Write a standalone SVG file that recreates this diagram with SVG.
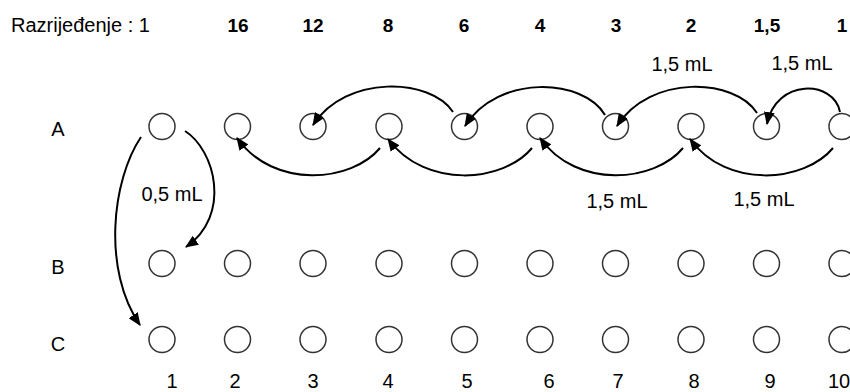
<svg xmlns="http://www.w3.org/2000/svg" width="850" height="392" viewBox="0 0 850 392">
<style>
  .t { font-family: "Liberation Sans", Arial, sans-serif; font-size: 20px; fill: #000; }
  .b { font-family: "Liberation Sans", Arial, sans-serif; font-size: 19px; font-weight: bold; fill: #000; text-anchor: middle; }
  .m { text-anchor: middle; }
  .well { fill: #fff; stroke: #333; stroke-width: 1.5; }
  .arc { fill: none; stroke: #000; stroke-width: 2; marker-end: url(#ah); }
</style>
<defs>
  <marker id="ah" viewBox="0 0 12 10" markerUnits="userSpaceOnUse" markerWidth="13" markerHeight="11" refX="11" refY="5" orient="auto">
    <path d="M0,0 L12,5 L0,10 z" fill="#000"/>
  </marker>
  <circle id="w" r="13" class="well"/>
</defs>
<rect width="850" height="392" fill="#fff"/>

<g id="header">
  <text class="t" x="11" y="32">Razrijeđenje : 1</text>
  <text class="b" x="238" y="32">16</text>
  <text class="b" x="313" y="32">12</text>
  <text class="b" x="388" y="32">8</text>
  <text class="b" x="464" y="32">6</text>
  <text class="b" x="540" y="32">4</text>
  <text class="b" x="616" y="32">3</text>
  <text class="b" x="691" y="32">2</text>
  <text class="b" x="767" y="32">1,5</text>
  <text class="b" x="842" y="32">1</text>
</g>

<g id="row-labels">
  <text class="t m" x="58" y="136">A</text>
  <text class="t m" x="58" y="274">B</text>
  <text class="t m" x="58" y="351">C</text>
</g>

<g id="col-labels">
  <text class="t m" x="172" y="388">1</text>
  <text class="t m" x="235" y="388">2</text>
  <text class="t m" x="313" y="388">3</text>
  <text class="t m" x="388" y="388">4</text>
  <text class="t m" x="467" y="388">5</text>
  <text class="t m" x="549" y="388">6</text>
  <text class="t m" x="618" y="388">7</text>
  <text class="t m" x="694" y="388">8</text>
  <text class="t m" x="770" y="388">9</text>
  <text class="t m" x="839" y="388">10</text>
</g>

<g id="row-A">
  <use href="#w" x="162" y="126.5"/><use href="#w" x="237.5" y="126.5"/><use href="#w" x="313" y="126.5"/><use href="#w" x="389" y="126.5"/><use href="#w" x="464.5" y="126.5"/>
  <use href="#w" x="540" y="126.5"/><use href="#w" x="615.5" y="126.5"/><use href="#w" x="691" y="126.5"/><use href="#w" x="766.5" y="126.5"/><use href="#w" x="842" y="126.5"/>
</g>
<g id="row-B">
  <use href="#w" x="162" y="263.5"/><use href="#w" x="237.5" y="263.5"/><use href="#w" x="313" y="263.5"/><use href="#w" x="389" y="263.5"/><use href="#w" x="464.5" y="263.5"/>
  <use href="#w" x="540" y="263.5"/><use href="#w" x="615.5" y="263.5"/><use href="#w" x="691" y="263.5"/><use href="#w" x="766.5" y="263.5"/><use href="#w" x="842" y="263.5"/>
</g>
<g id="row-C">
  <use href="#w" x="162" y="339.5"/><use href="#w" x="237.5" y="339.5"/><use href="#w" x="313" y="339.5"/><use href="#w" x="389" y="339.5"/><use href="#w" x="464.5" y="339.5"/>
  <use href="#w" x="540" y="339.5"/><use href="#w" x="615.5" y="339.5"/><use href="#w" x="691" y="339.5"/><use href="#w" x="766.5" y="339.5"/><use href="#w" x="842" y="339.5"/>
</g>

<g id="connectors">
  <path class="arc" d="M840 112 C834 80, 776 78, 767 124"/>
  <path class="arc" d="M757 113 C735 78, 650 74, 617 126"/>
  <path class="arc" d="M605 115 C583 78, 498 74, 465 126"/>
  <path class="arc" d="M453 112 C431 78, 346 74, 313 125"/>
  <path class="arc" d="M833 148 C805 182, 727 190, 690 139"/>
  <path class="arc" d="M683 148 C655 182, 577 190, 540 138"/>
  <path class="arc" d="M532 148 C504 182, 426 190, 388 139"/>
  <path class="arc" d="M380 148 C352 182, 274 190, 237 138"/>
  <path class="arc" d="M185 131 C215 150, 232 215, 186 247"/>
  <path class="arc" d="M141 137 C112 180, 102 270, 140 325"/>
</g>

<g id="volume-labels">
  <text class="t m" x="682" y="71">1,5 mL</text>
  <text class="t m" x="802" y="70">1,5 mL</text>
  <text class="t m" x="617" y="208">1,5 mL</text>
  <text class="t m" x="764" y="206">1,5 mL</text>
  <text class="t m" x="172" y="201">0,5 mL</text>
</g>
</svg>
